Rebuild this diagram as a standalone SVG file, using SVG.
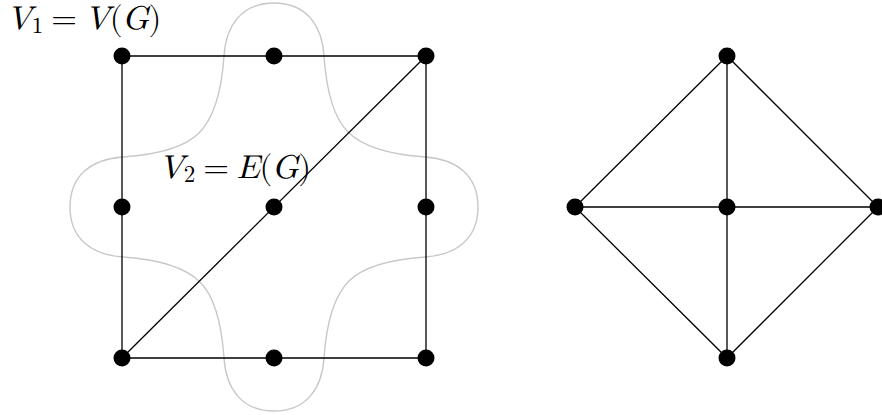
<svg xmlns="http://www.w3.org/2000/svg" width="882" height="415" viewBox="0 0 882 415">
<style>
.e{stroke:#000;stroke-width:1.3;fill:none}
.n{fill:#000}
.blob{stroke:#c8c8c8;stroke-width:1.4;fill:none}
.lbl{font-family:"Latin Modern Math","Liberation Serif","DejaVu Serif",serif;font-size:33px;fill:#000}
.it{font-style:italic}
</style>
<rect width="882" height="415" fill="#fff"/>
<g id="blob">
<path class="blob" transform="translate(274,207)" d="M0,-204 C32,-204 48,-182 50,-151 C52,-122 58,-91 74,-75 C91,-58 122,-52 151,-50 C182,-48 204,-32 204,0 C204,32 182,48 151,50 C122,52 91,58 75,74 C58,91 52,122 50,151 C48,182 32,204 0,204 C-32,204 -48,182 -50,151 C-52,122 -58,91 -74,75 C-91,58 -122,52 -151,50 C-182,48 -204,32 -204,0 C-204,-32 -182,-48 -151,-50 C-122,-52 -91,-58 -75,-74 C-58,-91 -52,-122 -50,-151 C-48,-182 -32,-204 0,-204 Z"/>
</g>
<g id="connectors">
<path class="e" d="M122,56 H426 V358 H122 Z"/>
<path class="e" d="M122,358 L426,56"/>
<path class="e" d="M727,56 L575,207 L727,358 L878,207 Z"/>
<path class="e" d="M727,56 V358 M575,207 H878"/>
</g>
<g id="a1"><circle class="n" cx="122" cy="56" r="8.5"/></g>
<g id="a2"><circle class="n" cx="274" cy="56" r="8.5"/></g>
<g id="a3"><circle class="n" cx="426" cy="56" r="8.5"/></g>
<g id="a4"><circle class="n" cx="122" cy="207" r="8.5"/></g>
<g id="a5"><circle class="n" cx="274" cy="207" r="8.5"/></g>
<g id="a6"><circle class="n" cx="426" cy="207" r="8.5"/></g>
<g id="a7"><circle class="n" cx="122" cy="358" r="8.5"/></g>
<g id="a8"><circle class="n" cx="274" cy="358" r="8.5"/></g>
<g id="a9"><circle class="n" cx="426" cy="358" r="8.5"/></g>
<g id="b1"><circle class="n" cx="727" cy="56" r="8.5"/></g>
<g id="b2"><circle class="n" cx="575" cy="207" r="8.5"/></g>
<g id="b3"><circle class="n" cx="727" cy="207" r="8.5"/></g>
<g id="b4"><circle class="n" cx="878" cy="207" r="8.5"/></g>
<g id="b5"><circle class="n" cx="727" cy="358" r="8.5"/></g>
<g id="label1"><text class="lbl" x="7" y="29"><tspan class="it">V</tspan><tspan font-size="23" dy="4">1</tspan><tspan dy="-4" dx="8">=</tspan><tspan class="it" dx="8">V</tspan><tspan>(</tspan><tspan class="it">G</tspan><tspan>)</tspan></text></g>
<g id="label2"><text class="lbl" x="159" y="178"><tspan class="it">V</tspan><tspan font-size="23" dy="4">2</tspan><tspan dy="-4" dx="8">=</tspan><tspan class="it" dx="8">E</tspan><tspan>(</tspan><tspan class="it">G</tspan><tspan>)</tspan></text></g>
</svg>
